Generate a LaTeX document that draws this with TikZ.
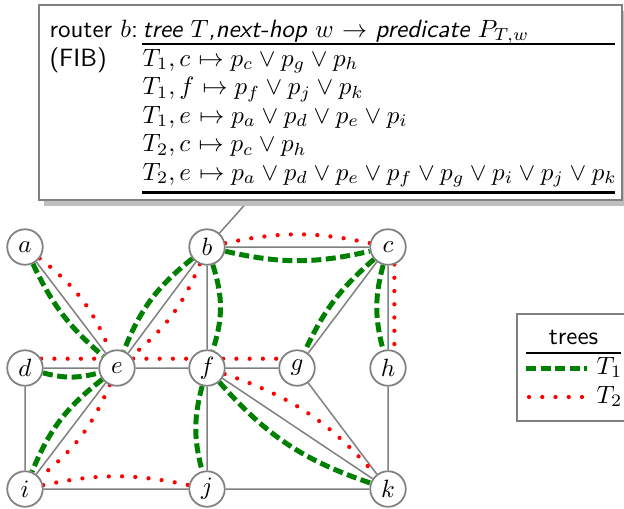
\documentclass[tikz,border=0pt]{standalone}
\usetikzlibrary{backgrounds}
\definecolor{treegreen}{RGB}{0,128,0}
\tikzset{
  vtx/.style={circle, draw=gray, line width=0.7pt, fill=white, minimum size=14.2pt, inner sep=0pt},
  link/.style={draw=gray, line width=0.6pt},
  tone/.style={draw=treegreen, line width=2pt, dash pattern=on 4pt off 1.8pt},
  ttwo/.style={draw=red, line width=1.7pt, line cap=round, dash pattern=on 0pt off 5.3pt},
  txt/.style={anchor=base west, inner sep=0pt},
  frame/.style={draw=gray, line width=0.8pt, fill=white},
}
\begin{document}
\begin{tikzpicture}[x=0.4pt,y=-0.4pt]
\useasboundingbox (0,0) rectangle (624,508);
\clip (0,0) rectangle (624,508);

% graph nodes
\node[vtx] (a) at (25,247) {$a$};
\node[vtx] (b) at (207,247) {$b$};
\node[vtx] (c) at (388,247) {$c$};
\node[vtx] (d) at (25,368) {$d$};
\node[vtx] (e) at (117,368) {$e$};
\node[vtx] (f) at (207,368) {$f$};
\node[vtx] (g) at (297,368) {$g$};
\node[vtx] (h) at (388,368) {$h$};
\node[vtx] (i) at (25,489) {$i$};
\node[vtx] (j) at (207,489) {$j$};
\node[vtx] (k) at (388,489) {$k$};
\coordinate (fibend) at (258,190);

\begin{scope}[on background layer]
  \draw[link] (a)--(e) (b)--(e) (b)--(c) (b)--(f) (c)--(g) (c)--(h)
              (d)--(e) (e)--(f) (f)--(g) (f)--(k) (g)--(k) (h)--(k)
              (d)--(i) (e)--(i) (i)--(j) (j)--(k) (f)--(j);
  \draw[link] (b) -- (fibend);
  % tree T1
  \draw[tone] (a) to[bend right=12] (e);
  \draw[tone] (b) to[bend right=15] (e);
  \draw[tone] (d) to[bend right=15] (e);
  \draw[tone] (e) to[bend right=15] (i);
  \draw[tone] (b) to[bend right=13] (c);
  \draw[tone] (b) to[bend left=18] (f);
  \draw[tone] (f) to[bend right=15] (j);
  \draw[tone] (f) to[bend right=15] (k);
  \draw[tone] (c) to[bend right=12] (g);
  \draw[tone] (c) to[bend right=15] (h);
  % tree T2
  \draw[ttwo] (a) to[bend left=15] (e);
  \draw[ttwo] (b) to[bend left=14] (e);
  \draw[ttwo] (d.30) -- (e.150);
  \draw[ttwo] (e.30) -- (f.150);
  \draw[ttwo] (f.30) -- (g.150);
  \draw[ttwo] (e) to[bend left=14] (i);
  \draw[ttwo] (i) to[bend left=12] (j);
  \draw[ttwo] (b) to[bend left=12] (c);
  \draw[ttwo] (f) to[bend left=15] (k);
  \draw[ttwo] (c.-70) -- (h.70);
\end{scope}

% FIB box
\fill[gray!50] (44,11) rectangle (630,206);
\draw[frame] (39,5) rectangle (622,200);
\node[txt, font=\sffamily] (rt) at (49,37) {router $b$:};
\node[txt, font=\sffamily] (fib) at (49,66) {(FIB)};
\node[txt, font=\sffamily\itshape] (hd) at (142,37) {tree $T$,next-hop $w$ $\rightarrow$ predicate $P_{T,w}$};
\draw[line width=0.9pt] (142,44) -- (615,44);
\node[txt] (r1) at (142,66) {$T_1, c$ $\mapsto p_c \vee p_g \vee p_h$};
\node[txt] (r2) at (142,94.5) {$T_1, f$ $\mapsto p_f \vee p_j \vee p_k$};
\node[txt] (r3) at (142,123) {$T_1, e$ $\mapsto p_a \vee p_d \vee p_e \vee p_i$};
\node[txt] (r4) at (142,151.5) {$T_2, c$ $\mapsto p_c \vee p_h$};
\node[txt] (r5) at (142,180) {$T_2, e$ $\mapsto p_a \vee p_d \vee p_e \vee p_f \vee p_g \vee p_i \vee p_j \vee p_k$};
\draw[line width=1.3pt] (142,192.5) -- (615,192.5);

% legend
\draw[frame] (517,314) rectangle (632,421);
\node[font=\sffamily, anchor=base, inner sep=0pt] (lt) at (573.5,344) {trees};
\draw[line width=0.8pt] (526,353) -- (621,353);
\coordinate (l1a) at (526,368);
\coordinate (l1b) at (587,368);
\coordinate (l2a) at (529,397);
\coordinate (l2b) at (587,397);
\draw[tone] (l1a) -- (l1b);
\draw[ttwo] (l2a) -- (l2b);
\node[txt] (lT1) at (596,374) {$T_1$};
\node[txt] (lT2) at (596,403) {$T_2$};
\end{tikzpicture}
\end{document}
